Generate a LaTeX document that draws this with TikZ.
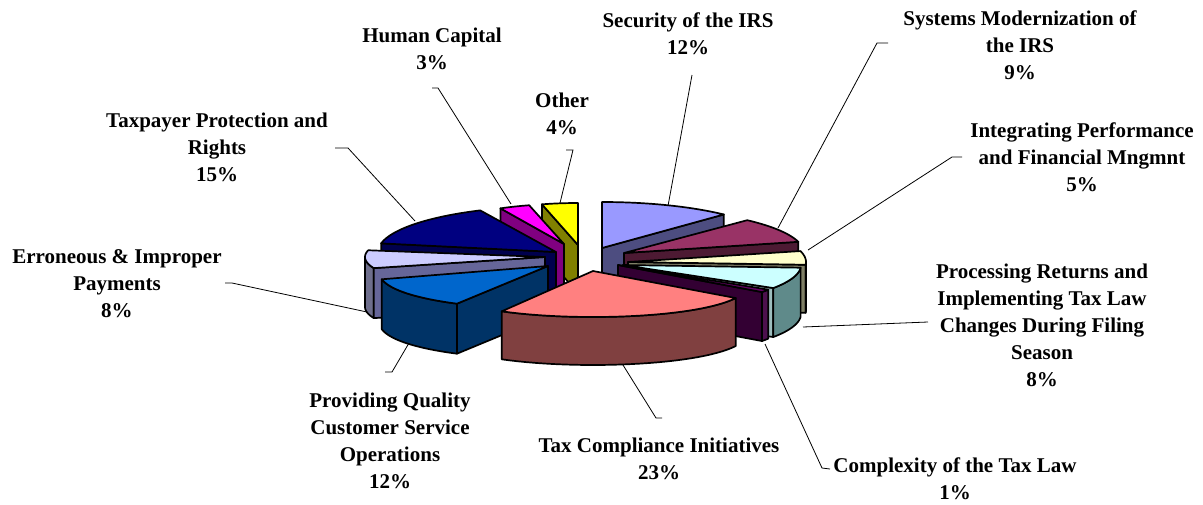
\documentclass[tikz,border=0pt]{standalone}
\usepackage{fontspec}
\setmainfont{Liberation Serif}
\definecolor{secT}{HTML}{9999FF}\definecolor{secS}{HTML}{4D4D80}
\definecolor{sysT}{HTML}{993366}\definecolor{sysS}{HTML}{4D1A33}
\definecolor{intT}{HTML}{FFFFCC}\definecolor{intS}{HTML}{808066}\definecolor{intO}{HTML}{666650}
\definecolor{proT}{HTML}{CCFFFF}\definecolor{proS}{HTML}{5F8A8A}\definecolor{proR}{HTML}{9DBDBD}
\definecolor{comT}{HTML}{660066}\definecolor{comS}{HTML}{330033}\definecolor{comO}{HTML}{4D104D}
\definecolor{othT}{HTML}{FFFF00}\definecolor{othS}{HTML}{808000}
\definecolor{humT}{HTML}{FF00FF}\definecolor{humS}{HTML}{800080}
\definecolor{taxpT}{HTML}{000080}\definecolor{taxpS}{HTML}{00004D}
\definecolor{errT}{HTML}{CCCCFF}\definecolor{errS}{HTML}{666699}\definecolor{errO}{HTML}{6E6E8C}
\definecolor{provT}{HTML}{0066CC}\definecolor{provS}{HTML}{003366}
\definecolor{tcT}{HTML}{FF8080}\definecolor{tcS}{HTML}{804040}
% cx cy A B k ts te color
\newcommand\PieTop[8]{\filldraw[pie,fill=#8] (#1,#2) -- plot[domain=#6:#7,samples=40,variable=\q] ({#1+#3*cos(\q)*(1-#5*sin(\q))},{#2-#4*sin(\q)}) -- cycle;}
% cx cy A B k t h color
\newcommand\PieRad[8]{\filldraw[pie,fill=#8] (#1,#2) -- ({#1+#3*cos(#6)*(1-#5*sin(#6))},{#2-#4*sin(#6)}) -- ++(0,#7) -- ({#1},{#2+#7}) -- cycle;}
% cx cy A B k ta tb h color
\newcommand\PieSide[9]{\filldraw[pie,fill=#9] plot[domain=#6:#7,samples=30,variable=\q] ({#1+#3*cos(\q)*(1-#5*sin(\q))},{#2-#4*sin(\q)}) -- plot[domain=#7:#6,samples=30,variable=\q] ({#1+#3*cos(\q)*(1-#5*sin(\q))},{#2-#4*sin(\q)+#8}) -- cycle;}
\begin{document}
\begin{tikzpicture}[x=1pt,y=-1pt,
  pie/.style={draw=black,line width=1.7pt,line join=round},
  lbl/.style={font=\fontsize{21}{27}\selectfont\bfseries,align=center,inner sep=0pt},
  leader/.style={draw=black,line width=0.8pt}]
\useasboundingbox (0,0) rectangle (1203,504);
% Security
\PieRad{602}{248}{178}{46}{0}{46.8}{48}{secS}
\PieTop{602}{248}{178}{46}{0}{46.8}{90}{secT}
% Systems
\PieRad{624}{253}{180}{45}{0}{14.4}{48}{sysS}
\PieTop{624}{253}{180}{45}{0}{14.4}{46.8}{sysT}
% Integrating
\PieRad{628}{262}{178}{44}{0}{-3.6}{48}{intS}
\PieSide{628}{262}{178}{44}{0}{-3.6}{0}{48}{intO}
\PieTop{628}{262}{178}{44}{0}{-3.6}{14.4}{intT}
% Processing
\PieRad{623}{265}{178}{43}{0}{-32.4}{49}{proR}
\PieSide{623}{265}{178}{43}{0}{-32.4}{-3.6}{49}{proS}
\PieTop{623}{265}{178}{43}{0}{-32.4}{-3.6}{proT}
% Complexity
\PieRad{618}{265}{178}{46}{0}{-36}{49}{comS}
\PieSide{618}{265}{178}{46}{0}{-36}{-32.4}{49}{comO}
\PieTop{618}{265}{178}{46}{0}{-36}{-32.4}{comT}
% Other
\PieRad{578}{245}{145}{42}{0}{104.4}{48}{othS}
\PieTop{578}{245}{145}{42}{0}{90}{104.4}{othT}
% Human Capital
\PieRad{564}{244}{140}{40}{0}{117}{48}{humS}
\PieTop{564}{244}{140}{40}{0}{104.4}{117}{humT}
% Taxpayer Protection
\PieRad{556}{252}{178}{46}{0}{169.2}{48}{taxpS}
\PieTop{556}{252}{178}{46}{0}{115.2}{169.2}{taxpT}
% Erroneous
\PieSide{545}{257}{180}{36}{0}{180}{198}{50}{errO}
\PieRad{545}{257}{180}{36}{0}{198}{50}{errS}
\PieTop{545}{257}{180}{36}{0}{169.2}{198}{errT}
% Providing Quality
\PieSide{548}{266}{167}{43}{0.15}{-162}{-118.8}{50}{provS}
\PieRad{548}{266}{167}{43}{0.15}{-118.8}{50}{provS}
\PieTop{548}{266}{167}{43}{0.15}{-162}{-118.8}{provT}
% Tax Compliance
\PieSide{593}{271}{150}{46}{0.3}{-118.8}{-36}{48}{tcS}
\PieTop{593}{271}{150}{46}{0.3}{-118.8}{-36}{tcT}

% labels
\node[lbl] (Lsec) at (688,33.5) {Security of the IRS\\12\%};
\node[lbl] (Lsys) at (1020,45) {Systems Modernization of\\the IRS\\9\%};
\node[lbl] (Lint) at (1082,157) {Integrating Performance\\and Financial Mngmnt\\5\%};
\node[lbl] (Lpro) at (1042,325) {Processing Returns and\\Implementing Tax Law\\Changes During Filing\\Season\\8\%};
\node[lbl] (Lcom) at (955,478.5) {Complexity of the Tax Law\\1\%};
\node[lbl] (Ltc) at (659,458.5) {Tax Compliance Initiatives\\23\%};
\node[lbl] (Lprov) at (390,440.5) {Providing Quality\\Customer Service\\Operations\\12\%};
\node[lbl] (Lerr) at (117,284) {Erroneous \& Improper\\Payments\\8\%};
\node[lbl] (Ltaxp) at (217,147) {Taxpayer Protection and\\Rights\\15\%};
\node[lbl] (Lhum) at (432,48.5) {Human Capital\\3\%};
\node[lbl] (Loth) at (562,113.5) {Other\\4\%};

% leader line end points
\coordinate (sec1) at (692,75);   \coordinate (sec2) at (668,206);
\coordinate (sys0) at (888,43);   \coordinate (sys1) at (877,43);  \coordinate (sys2) at (778,228);
\coordinate (int0) at (962,157);  \coordinate (int1) at (952,157); \coordinate (int2) at (808,250);
\coordinate (pro1) at (928,322);  \coordinate (pro2) at (803,327);
\coordinate (com0) at (830,469);  \coordinate (com1) at (822,468); \coordinate (com2) at (765,344);
\coordinate (tc0) at (662,418);   \coordinate (tc1) at (656,418);  \coordinate (tc2) at (623,365);
\coordinate (prov0) at (385,372); \coordinate (prov1) at (392,372);\coordinate (prov2) at (409,343);
\coordinate (err0) at (225,283);  \coordinate (err1) at (232,283); \coordinate (err2) at (367,312);
\coordinate (taxp0) at (335,148); \coordinate (taxp1) at (348,148);\coordinate (taxp2) at (415,221);
\coordinate (hum0) at (432,88);   \coordinate (hum1) at (438,88);  \coordinate (hum2) at (511,204);
\coordinate (oth0) at (566,150);  \coordinate (oth1) at (573,150); \coordinate (oth2) at (560,203);

\draw[leader] (sec1) -- (sec2);
\draw[leader] (sys0) -- (sys1) -- (sys2);
\draw[leader] (int0) -- (int1) -- (int2);
\draw[leader] (pro1) -- (pro2);
\draw[leader] (com0) -- (com1) -- (com2);
\draw[leader] (tc0) -- (tc1) -- (tc2);
\draw[leader] (prov0) -- (prov1) -- (prov2);
\draw[leader] (err0) -- (err1) -- (err2);
\draw[leader] (taxp0) -- (taxp1) -- (taxp2);
\draw[leader] (hum0) -- (hum1) -- (hum2);
\draw[leader] (oth0) -- (oth1) -- (oth2);
\end{tikzpicture}
\end{document}
